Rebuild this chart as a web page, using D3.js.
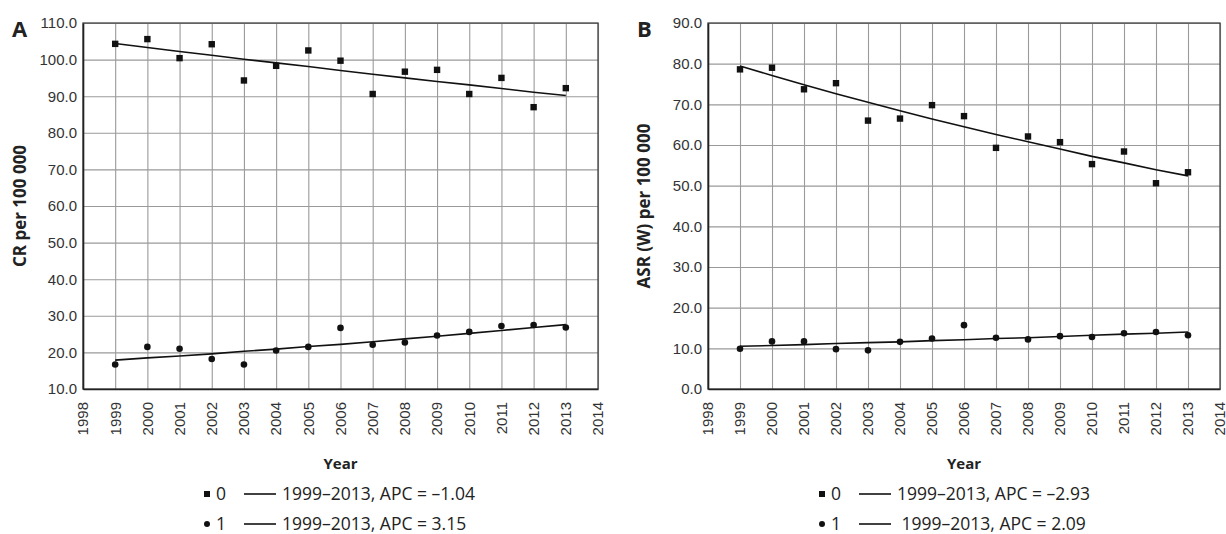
<!DOCTYPE html>
<html>
<head>
<meta charset="utf-8">
<script src="https://cdn.jsdelivr.net/npm/d3@7"></script>
<style>
  body { margin: 0; background: #fff; }
  svg { display: block; font-family: "Open Sans", "Noto Sans", sans-serif; }
  .grid line { stroke: #9a9a9a; stroke-width: 1.1; }
  .tick text { fill: #333; font-size: 15px; }
  .trend { fill: none; stroke: #111; stroke-width: 1.6; }
</style>
</head>
<body>
<svg id="chart" width="1226" height="534"></svg>
<script>
const years = [1999, 2000, 2001, 2002, 2003, 2004, 2005, 2006, 2007, 2008, 2009, 2010, 2011, 2012, 2013];
const yearTicks = [1998, 1999, 2000, 2001, 2002, 2003, 2004, 2005, 2006, 2007, 2008, 2009, 2010, 2011, 2012, 2013, 2014];

// panel A - crude rate
const crTicks = [10, 20, 30, 40, 50, 60, 70, 80, 90, 100, 110];
const crGroup0 = [104.3, 105.6, 100.4, 104.2, 94.3, 98.3, 102.5, 99.7, 90.6, 96.7, 97.2, 90.6, 95.0, 87.0, 92.2];
const crGroup1 = [16.7, 21.5, 21.0, 18.2, 16.7, 20.5, 21.5, 26.7, 22.1, 22.7, 24.6, 25.6, 27.2, 27.5, 26.8];
const crTrend0 = [104.4, 103.3, 102.2, 101.2, 100.1, 99.1, 98.1, 97.0, 96.0, 95.0, 94.0, 93.1, 92.1, 91.1, 90.2];
const crTrend1 = [17.9, 18.5, 19.0, 19.6, 20.3, 20.9, 21.6, 22.2, 22.9, 23.7, 24.4, 25.2, 26.0, 26.8, 27.6];
const crLegend = ["1999\u20132013, APC = \u20131.04", "1999\u20132013, APC = 3.15"];

// panel B - age standardised rate
const asrTicks = [0, 10, 20, 30, 40, 50, 60, 70, 80, 90];
const asrGroup0 = [78.6, 79.0, 73.7, 75.2, 66.0, 66.5, 69.8, 67.1, 59.3, 62.1, 60.7, 55.3, 58.4, 50.6, 53.3];
const asrGroup1 = [9.9, 11.7, 11.7, 9.8, 9.5, 11.6, 12.4, 15.7, 12.6, 12.2, 13.0, 12.8, 13.7, 14.0, 13.2];
const asrTrend0 = [79.4, 77.1, 74.8, 72.6, 70.5, 68.4, 66.4, 64.5, 62.6, 60.8, 59.0, 57.2, 55.6, 53.9, 52.4];
const asrTrend1 = [10.5, 10.7, 10.9, 11.2, 11.4, 11.6, 11.9, 12.1, 12.4, 12.6, 12.9, 13.2, 13.5, 13.7, 14.0];
const asrLegend = ["1999\u20132013, APC = \u20132.93", " 1999\u20132013, APC = 2.09"];

const groupNames = ["0", "1"];

const svg = d3.select('#chart');

function drawPanel(opts) {
  const { left, top, width, height, letter, yTitle, yTicks, g0, g1, t0, t1, legend, legendX } = opts;
  const g = svg.append('g').attr('transform', `translate(${left},${top})`);

  const x = d3.scaleLinear().domain([yearTicks[0], yearTicks[yearTicks.length - 1]]).range([0, width]);
  const y = d3.scaleLinear().domain([yTicks[0], yTicks[yTicks.length - 1]]).range([height, 0]);

  // grid
  g.append('g').attr('class', 'grid')
    .call(d3.axisBottom(x).tickValues(yearTicks).tickSize(height).tickFormat(''))
    .call(s => s.select('.domain').remove());
  g.append('g').attr('class', 'grid')
    .call(d3.axisLeft(y).tickValues(yTicks).tickSize(-width).tickFormat(''))
    .call(s => s.select('.domain').remove());

  // frame
  g.append('rect')
    .attr('width', width).attr('height', height)
    .attr('fill', 'none').attr('stroke', '#444').attr('stroke-width', 1.3);

  // y axis
  g.append('g')
    .call(d3.axisLeft(y).tickValues(yTicks).tickSize(0).tickPadding(6).tickFormat(d3.format('.1f')))
    .call(s => s.select('.domain').attr('stroke', '#222').attr('stroke-width', 1.6));

  // x axis, rotated labels
  g.append('g')
    .attr('transform', `translate(0,${height})`)
    .call(d3.axisBottom(x).tickValues(yearTicks).tickSize(0).tickFormat(d3.format('d')))
    .call(s => s.select('.domain').attr('stroke', '#222').attr('stroke-width', 1.6))
    .selectAll('.tick text')
    .attr('transform', 'rotate(-90)')
    .attr('text-anchor', 'end')
    .attr('x', -13)
    .attr('y', 0)
    .attr('dy', '0.32em');

  // trend lines
  const line = d3.line().x((d, i) => x(years[i])).y(d => y(d));
  g.append('path').attr('class', 'trend').attr('d', line(t0));
  g.append('path').attr('class', 'trend').attr('d', line(t1));

  // points
  g.selectAll('.sq').data(g0).join('rect')
    .attr('x', (d, i) => x(years[i]) - 3.2)
    .attr('y', d => y(d) - 3.2)
    .attr('width', 6.4).attr('height', 6.4)
    .attr('fill', '#111');
  g.selectAll('.dot').data(g1).join('circle')
    .attr('cx', (d, i) => x(years[i]))
    .attr('cy', d => y(d))
    .attr('r', 3.3)
    .attr('fill', '#111');

  // titles
  svg.append('text')
    .attr('x', left - 71).attr('y', top + 14)
    .attr('font-size', 22).attr('font-weight', 'bold').attr('fill', '#222')
    .text(letter);
  svg.append('text')
    .attr('transform', `translate(${opts.yTitleX},${top + height / 2}) rotate(-90)`)
    .attr('text-anchor', 'middle')
    .attr('font-size', 17).attr('font-weight', 'bold').attr('fill', '#222')
    .text(yTitle);
  svg.append('text')
    .attr('x', left + width / 2).attr('y', 469)
    .attr('text-anchor', 'middle')
    .attr('font-size', 15).attr('font-weight', 'bold').attr('fill', '#222')
    .text('Year');

  // legend
  const lg = svg.append('g').attr('transform', `translate(${legendX},0)`);
  const rows = [494, 524];
  rows.forEach((ry, i) => {
    if (i === 0) {
      lg.append('rect').attr('x', -3).attr('y', ry - 3).attr('width', 6).attr('height', 6).attr('fill', '#111');
    } else {
      lg.append('circle').attr('cx', 0).attr('cy', ry).attr('r', 3).attr('fill', '#111');
    }
    lg.append('text').attr('x', 9).attr('y', ry).attr('dy', '0.36em')
      .attr('font-size', 17.5).attr('fill', '#222').text(groupNames[i]);
    lg.append('line').attr('x1', 37).attr('x2', 69).attr('y1', ry).attr('y2', ry)
      .attr('stroke', '#111').attr('stroke-width', 1.6);
    lg.append('text').attr('x', 75).attr('y', ry).attr('dy', '0.36em')
      .attr('font-size', 17.5).attr('fill', '#222')
      .style('white-space', 'pre')
      .text(legend[i]);
  });
}

drawPanel({
  left: 83, top: 23, width: 515, height: 366,
  letter: 'A', yTitle: 'CR per 100 000', yTitleX: 26,
  yTicks: crTicks, g0: crGroup0, g1: crGroup1, t0: crTrend0, t1: crTrend1,
  legend: crLegend, legendX: 207
});

drawPanel({
  left: 708, top: 23, width: 512, height: 366,
  letter: 'B', yTitle: 'ASR (W) per 100 000', yTitleX: 650,
  yTicks: asrTicks, g0: asrGroup0, g1: asrGroup1, t0: asrTrend0, t1: asrTrend1,
  legend: asrLegend, legendX: 822
});
</script>
</body>
</html>
